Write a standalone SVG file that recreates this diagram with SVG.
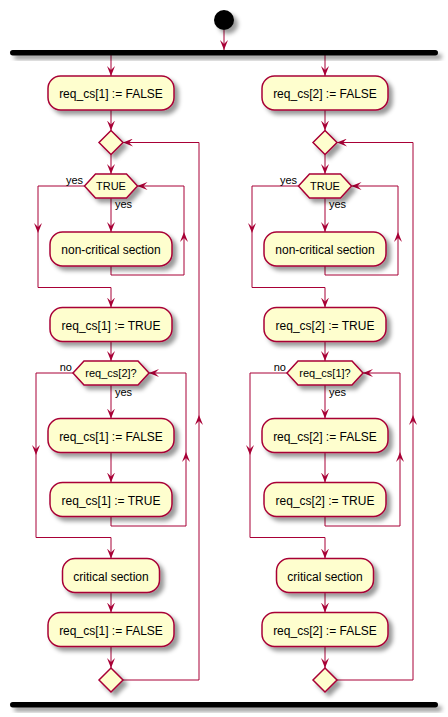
<svg xmlns="http://www.w3.org/2000/svg" width="448" height="717" viewBox="0 0 448 717">
<style>
.act{fill:#FEFECE;stroke:#A80036;stroke-width:1.5;filter:url(#sh)}
.t{font-family:"Liberation Sans",Arial,sans-serif;font-size:12px;fill:#000;text-anchor:middle}
.ht{font-family:"Liberation Sans",Arial,sans-serif;font-size:11px;fill:#000;text-anchor:middle}
.lb{font-family:"Liberation Sans",Arial,sans-serif;font-size:11px;fill:#000}
.lbr{font-family:"Liberation Sans",Arial,sans-serif;font-size:11px;fill:#000;text-anchor:end}
.c{fill:none;stroke:#A80036;stroke-width:1;marker-end:url(#ah)}
.cn{fill:none;stroke:#A80036;stroke-width:1}
.bar{fill:#000;stroke:none;filter:url(#sh)}
</style>
<defs>
<filter id="sh" x="-1" y="-1" width="300%" height="300%">
<feGaussianBlur in="SourceAlpha" stdDeviation="2" result="b"/>
<feColorMatrix in="b" type="matrix" values="0 0 0 0 0 0 0 0 0 0 0 0 0 0 0 0 0 0 .4 0" result="b2"/>
<feOffset in="b2" dx="4" dy="4" result="b3"/>
<feBlend in="SourceGraphic" in2="b3" mode="normal"/>
</filter>
<marker id="ah" viewBox="0 0 10 8" refX="10" refY="4" markerWidth="10" markerHeight="8" markerUnits="userSpaceOnUse" orient="auto">
<path d="M0,0 L10,4 L0,8 L4,4 Z" fill="#A80036"/>
</marker>
</defs>

<g id="connectors">
<path class="c" d="M224,30 V50"/>
<!-- left column -->
<path class="c" d="M111,55 V76"/>
<path class="c" d="M111,110 V130.5"/>
<path class="c" d="M111,154.5 V174"/>
<path class="c" d="M111,198 V232"/>
<path class="c" d="M84.5,186 H38 V233"/>
<path class="c" d="M38,233 V287.5 H111 V307.5"/>
<path class="c" d="M111,266 V275 H184 V232"/>
<path class="c" d="M184,232 V186 H137.5"/>
<path class="c" d="M111,341.5 V361"/>
<path class="c" d="M111,385 V418.5"/>
<path class="c" d="M73,373 H36 V455"/>
<path class="c" d="M36,455 V537.5 H111 V558.5"/>
<path class="c" d="M111,452.5 V482.5"/>
<path class="c" d="M111,516.5 V526 H186 V452"/>
<path class="c" d="M186,452 V373 H149"/>
<path class="c" d="M111,592.5 V612.5"/>
<path class="c" d="M111,646.5 V668"/>
<path class="c" d="M123,680 H199 V415"/>
<path class="c" d="M199,415 V142.5 H123"/>
<!-- right column -->
<path class="c" d="M325,55 V76"/>
<path class="c" d="M325,110 V130.5"/>
<path class="c" d="M325,154.5 V174"/>
<path class="c" d="M325,198 V232"/>
<path class="c" d="M298.5,186 H252 V233"/>
<path class="c" d="M252,233 V287.5 H325 V307.5"/>
<path class="c" d="M325,266 V275 H398 V232"/>
<path class="c" d="M398,232 V186 H351.5"/>
<path class="c" d="M325,341.5 V361"/>
<path class="c" d="M325,385 V418.5"/>
<path class="c" d="M287,373 H250 V455"/>
<path class="c" d="M250,455 V537.5 H325 V558.5"/>
<path class="c" d="M325,452.5 V482.5"/>
<path class="c" d="M325,516.5 V526 H400 V452"/>
<path class="c" d="M400,452 V373 H363"/>
<path class="c" d="M325,592.5 V612.5"/>
<path class="c" d="M325,646.5 V668"/>
<path class="c" d="M337,680 H413 V415"/>
<path class="c" d="M413,415 V142.5 H337"/>
<!-- labels -->
<text class="lbr" x="83" y="184">yes</text>
<text class="lb" x="115" y="208">yes</text>
<text class="lbr" x="72" y="371">no</text>
<text class="lb" x="115" y="396">yes</text>
<text class="lbr" x="297" y="184">yes</text>
<text class="lb" x="329" y="208">yes</text>
<text class="lbr" x="286" y="371">no</text>
<text class="lb" x="329" y="396">yes</text>
</g>

<g id="start"><circle cx="224" cy="20" r="10" fill="#000" filter="url(#sh)"/></g>
<g id="fork"><rect class="bar" x="10" y="50" width="428" height="5.5" rx="2.75"/></g>
<g id="join"><rect class="bar" x="10" y="702" width="428" height="5.5" rx="2.75"/></g>

<!-- left column -->
<g id="l_init"><rect class="act" x="48" y="76" width="126" height="34" rx="12.5"/><text class="t" x="111" y="98">req_cs[1] := FALSE</text></g>
<g id="l_merge"><polygon class="act" points="111,130.5 123,142.5 111,154.5 99,142.5"/></g>
<g id="l_while1"><polygon class="act" points="84.5,186 95.5,174 126.5,174 137.5,186 126.5,198 95.5,198"/><text class="ht" x="111" y="190">TRUE</text></g>
<g id="l_noncrit"><rect class="act" x="50" y="232" width="122" height="34" rx="12.5"/><text class="t" x="111" y="254">non-critical section</text></g>
<g id="l_settrue"><rect class="act" x="50" y="307.5" width="122" height="34" rx="12.5"/><text class="t" x="111" y="329.5">req_cs[1] := TRUE</text></g>
<g id="l_while2"><polygon class="act" points="73,373 84,361 138,361 149,373 138,385 84,385"/><text class="ht" x="111" y="377">req_cs[2]?</text></g>
<g id="l_setfalse2"><rect class="act" x="48" y="418.5" width="126" height="34" rx="12.5"/><text class="t" x="111" y="440.5">req_cs[1] := FALSE</text></g>
<g id="l_settrue2"><rect class="act" x="50" y="482.5" width="122" height="34" rx="12.5"/><text class="t" x="111" y="504.5">req_cs[1] := TRUE</text></g>
<g id="l_crit"><rect class="act" x="62.5" y="558.5" width="97" height="34" rx="12.5"/><text class="t" x="111" y="580.5">critical section</text></g>
<g id="l_setfalse3"><rect class="act" x="48" y="612.5" width="126" height="34" rx="12.5"/><text class="t" x="111" y="634.5">req_cs[1] := FALSE</text></g>
<g id="l_end"><polygon class="act" points="111,668 123,680 111,692 99,680"/></g>

<!-- right column -->
<g id="r_init"><rect class="act" x="262" y="76" width="126" height="34" rx="12.5"/><text class="t" x="325" y="98">req_cs[2] := FALSE</text></g>
<g id="r_merge"><polygon class="act" points="325,130.5 337,142.5 325,154.5 313,142.5"/></g>
<g id="r_while1"><polygon class="act" points="298.5,186 309.5,174 340.5,174 351.5,186 340.5,198 309.5,198"/><text class="ht" x="325" y="190">TRUE</text></g>
<g id="r_noncrit"><rect class="act" x="264" y="232" width="122" height="34" rx="12.5"/><text class="t" x="325" y="254">non-critical section</text></g>
<g id="r_settrue"><rect class="act" x="264" y="307.5" width="122" height="34" rx="12.5"/><text class="t" x="325" y="329.5">req_cs[2] := TRUE</text></g>
<g id="r_while2"><polygon class="act" points="287,373 298,361 352,361 363,373 352,385 298,385"/><text class="ht" x="325" y="377">req_cs[1]?</text></g>
<g id="r_setfalse2"><rect class="act" x="262" y="418.5" width="126" height="34" rx="12.5"/><text class="t" x="325" y="440.5">req_cs[2] := FALSE</text></g>
<g id="r_settrue2"><rect class="act" x="264" y="482.5" width="122" height="34" rx="12.5"/><text class="t" x="325" y="504.5">req_cs[2] := TRUE</text></g>
<g id="r_crit"><rect class="act" x="276.5" y="558.5" width="97" height="34" rx="12.5"/><text class="t" x="325" y="580.5">critical section</text></g>
<g id="r_setfalse3"><rect class="act" x="262" y="612.5" width="126" height="34" rx="12.5"/><text class="t" x="325" y="634.5">req_cs[2] := FALSE</text></g>
<g id="r_end"><polygon class="act" points="325,668 337,680 325,692 313,680"/></g>
</svg>
